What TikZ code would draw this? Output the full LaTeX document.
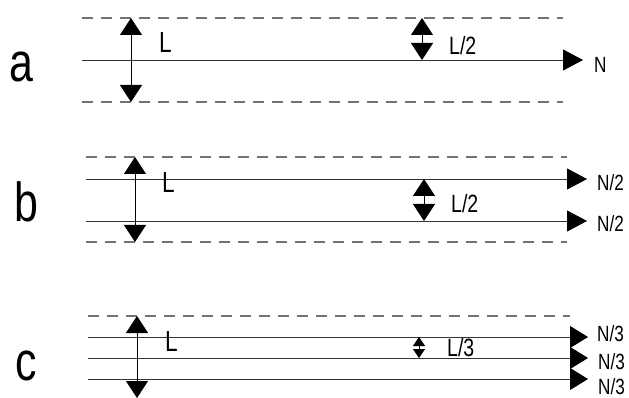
\documentclass[tikz,border=0pt]{standalone}
\usepackage{fontspec}
\setmainfont{Liberation Sans}[FakeStretch=0.78]
\usetikzlibrary{arrows.meta}
\tikzset{
  guide/.style={draw=black!55, line width=1.1pt, dash pattern=on 11pt off 8pt},
  flow/.style={draw=black!80, line width=0.9pt, -{Triangle[length=20pt,width=21pt,black]}},
  flowc/.style={draw=black!80, line width=0.9pt, -{Triangle[length=18pt,width=22pt,black]}},
  bigarr/.style={draw=black, line width=0.9pt, {Triangle[length=17pt,width=22pt]}-{Triangle[length=17pt,width=22pt]}},
  smallarr/.style={draw=black, line width=0.9pt, {Triangle[length=17pt,width=22pt]}-{Triangle[length=17pt,width=22pt]}},
  tinyarr/.style={draw=black, line width=0.9pt, {Triangle[length=9pt,width=12pt]}-{Triangle[length=9pt,width=12pt]}},
  panel/.style={anchor=base, inner sep=0pt, font=\fontsize{55}{55}\selectfont},
  lab/.style={anchor=base west, inner sep=0pt, font=\fontsize{29}{29}\selectfont},
  half/.style={anchor=base west, inner sep=0pt, font=\fontsize{25}{25}\selectfont},
  nlab/.style={anchor=base west, inner sep=0pt, font=\fontsize{22}{22}\selectfont}
}
\begin{document}
\begin{tikzpicture}[x=1pt,y=-1pt]
\useasboundingbox (0,0) rectangle (629,398);
% ---------- panel a ----------
\node[panel] (pa) at (21,82) {a};
\coordinate (a1) at (82,18);  \coordinate (a1e) at (563,18);
\coordinate (a2) at (82,102); \coordinate (a2e) at (563,102);
\coordinate (am) at (82,60);  \coordinate (ame) at (583,60);
\draw[guide] (a1) -- (a1e);
\draw[guide] (a2) -- (a2e);
\draw[flow] (am) -- (ame);
\coordinate (aLt) at (131,18); \coordinate (aLb) at (131,102);
\draw[bigarr] (aLt) -- (aLb);
\node[lab] (aL) at (159,53) {L};
\coordinate (aht) at (422,18); \coordinate (ahb) at (422,60);
\draw[smallarr] (aht) -- (ahb);
\node[half] (aH) at (449,55) {L/2};
\node[nlab] (aN) at (594,73) {N};
% ---------- panel b ----------
\node[panel] (pb) at (26,222) {b};
\coordinate (b1) at (86,157);  \coordinate (b1e) at (567,157);
\coordinate (b4) at (86,242);  \coordinate (b4e) at (567,242);
\coordinate (b2) at (86,179);  \coordinate (b2e) at (587,179);
\coordinate (b3) at (86,221);  \coordinate (b3e) at (587,221);
\draw[guide] (b1) -- (b1e);
\draw[guide] (b4) -- (b4e);
\draw[flow] (b2) -- (b2e);
\draw[flow] (b3) -- (b3e);
\coordinate (bLt) at (135,157); \coordinate (bLb) at (135,242);
\draw[bigarr] (bLt) -- (bLb);
\node[lab] (bL) at (162,193) {L};
\coordinate (bht) at (424,179); \coordinate (bhb) at (424,221);
\draw[smallarr] (bht) -- (bhb);
\node[half] (bH) at (451,213) {L/2};
\node[nlab] (bN1) at (597,191) {N/2};
\node[nlab] (bN2) at (597,232) {N/2};
% ---------- panel c ----------
\node[panel] (pc) at (26,380) {c};
\coordinate (c0) at (88,316);  \coordinate (c0e) at (570,316);
\coordinate (c1) at (88,337);  \coordinate (c1e) at (588,337);
\coordinate (c2) at (88,358);  \coordinate (c2e) at (588,358);
\coordinate (c3) at (88,379);  \coordinate (c3e) at (588,379);
\draw[guide] (c0) -- (c0e);
\draw[flowc] (c1) -- (c1e);
\draw[flowc] (c2) -- (c2e);
\draw[flowc] (c3) -- (c3e);
\coordinate (cLt) at (137,316); \coordinate (cLb) at (137,398);
\draw[bigarr] (cLt) -- (cLb);
\node[lab] (cL) at (165,351) {L};
\coordinate (cht) at (419,337); \coordinate (chb) at (419,358);
\draw[tinyarr] (cht) -- (chb);
\node[half] (cH) at (447,356) {L/3};
\node[nlab] (cN1) at (597,341) {N/3};
\node[nlab] (cN2) at (598,369) {N/3};
\node[nlab] (cN3) at (598,394) {N/3};
\end{tikzpicture}
\end{document}
